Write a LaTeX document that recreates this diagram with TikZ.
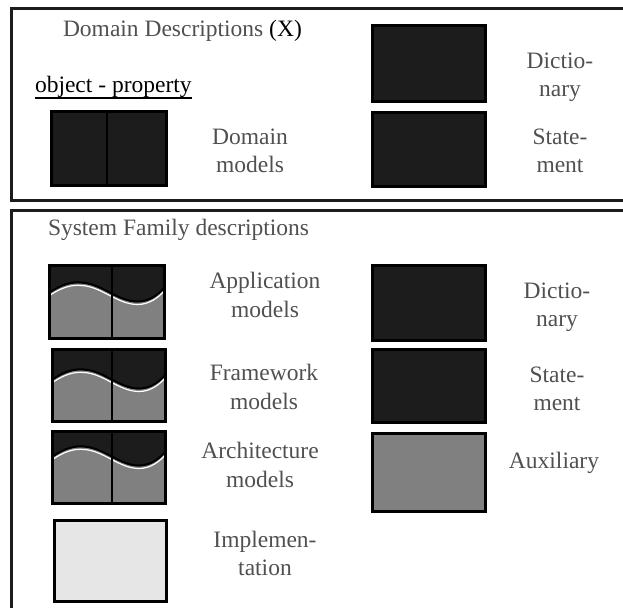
\documentclass[tikz,border=0pt]{standalone}
\usepackage{fontspec}
\setmainfont{Liberation Serif}
\definecolor{dark}{HTML}{1C1C1C}
\definecolor{midgray}{HTML}{808080}
\definecolor{lightgray}{HTML}{E6E6E6}
\definecolor{txt}{HTML}{505050}
\tikzset{
  frame/.style={draw=dark, line width=3pt},
  box/.style={draw=none, inner sep=0pt, outer sep=0pt, anchor=north west},
  boxline/.style={draw=black, line width=3pt},
  divider/.style={draw=black, line width=2.5pt},
  label/.style={text=txt, align=center, font=\fontsize{23.5}{28.5}\selectfont, inner sep=0pt, outer sep=0pt},
  wave/.style={draw=black, line width=2pt},
  hilite/.style={draw=white, line width=1.2pt},
}
% #1 name, #2 x, #3 y, #4 w, #5 h, #6 divider x, #7 wave vertical offset (down positive)
\newcommand{\wavebox}[7]{%
  \node[box, fill=dark, minimum width=#4pt, minimum height=#5pt] (#1) at (#2,#3) {};
  \begin{scope}
    \clip (#1.north west) rectangle (#1.south east);
    \begin{scope}[shift={(#1.north west)}, xscale=#4/115, yshift=-#7pt]
      \fill[midgray] (0,28) .. controls (12,20) and (22,17) .. (32,18) .. controls (52,19) and (68,37) .. (88,37) .. controls (100,37) and (109,30) .. (115,23) -- (115,90) -- (0,90) -- cycle;
      \draw[hilite] (0,30) .. controls (12,22) and (22,19) .. (32,20) .. controls (52,21) and (68,39) .. (88,39) .. controls (100,39) and (109,32) .. (115,25);
      \draw[wave] (0,27) .. controls (12,19) and (22,16) .. (32,17) .. controls (52,18) and (68,36) .. (88,36) .. controls (100,36) and (109,29) .. (115,22);
    \end{scope}
  \end{scope}
  \draw[divider] (#6,#3) -- (#6,#3+#5);
  \draw[boxline] (#1.north west) rectangle (#1.south east);
}
\newcommand{\plainbox}[6]{% #1 name, #2 x, #3 y, #4 w, #5 h, #6 fill
  \node[box, fill=#6, minimum width=#4pt, minimum height=#5pt] (#1) at (#2,#3) {};
  \draw[boxline] (#1.north west) rectangle (#1.south east);
}
\begin{document}
\begin{tikzpicture}[x=1pt,y=-1pt]
\useasboundingbox (0,0) rectangle (623,607);
\begin{scope}
\clip (0,0) rectangle (623,607);
% frames
\draw[frame] (11.5,8.5) rectangle (640,200);
\draw[frame] (11.5,210) rectangle (640,640);

% ---- top section
\node[label, anchor=base west] (dd) at (63,37) {Domain Descriptions \textcolor{black}{(X)}};
\node[label, anchor=base west, text=black] (op) at (35,93) {object - property};
\draw[black, line width=1.5pt] ([yshift=-5pt]op.base west) -- ([yshift=-5pt]op.base east);

\plainbox{dm}{51.5}{111.5}{115}{74}{dark}
\draw[divider] (107,111.5) -- (107,185.5);
\draw[boxline] (dm.north west) rectangle (dm.south east);
\node[label] (dmt) at (250,151) {Domain\\models};

\plainbox{dict1}{372.5}{25.5}{113}{76}{dark}
\node[label] (dict1t) at (560,77.5) {Dictio-\\nary};
\plainbox{stat1}{372.5}{112.5}{113}{74}{dark}
\node[label] (stat1t) at (560,151) {State-\\ment};

% ---- lower section
\node[label, anchor=base west] (sf) at (48,235) {System Family descriptions};

\wavebox{app}{49.5}{265.5}{115}{73}{112}{0}
\node[label] (appt) at (265,295) {Application\\models};

\wavebox{fw}{52.5}{349.5}{113}{72}{112}{3}
\node[label] (fwt) at (264,387) {Framework\\models};

\wavebox{arch}{52.5}{431.5}{113}{72}{112}{-2}
\node[label] (archt) at (260,465) {Architecture\\models};

\plainbox{impl}{54.5}{520.5}{112}{81}{lightgray}
\node[label] (implt) at (265,553.5) {Implemen-\\tation};

\plainbox{dict2}{372.5}{265.5}{113}{75}{dark}
\node[label] (dict2t) at (557,307.5) {Dictio-\\nary};
\plainbox{stat2}{372.5}{349.5}{113}{73}{dark}
\node[label] (stat2t) at (557,389) {State-\\ment};
\plainbox{aux}{372.5}{433.5}{113}{78}{midgray}
\node[label] (auxt) at (554,462.5) {Auxiliary};
\end{scope}
\end{tikzpicture}
\end{document}
